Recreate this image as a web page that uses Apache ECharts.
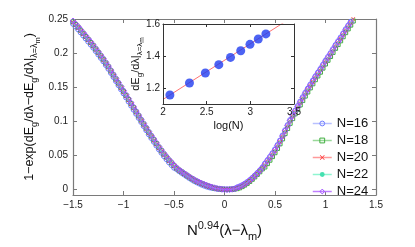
<!DOCTYPE html>
<html>
<head>
<meta charset="utf-8">
<script src="https://cdn.jsdelivr.net/npm/echarts@6/dist/echarts.min.js"></script>
<style>html,body{margin:0;padding:0;background:#fff}#c{width:415px;height:247px}</style>
</head>
<body>
<div id="c"></div>
<script>
// scaled coupling N^0.94 (lambda - lambda_m)
const scaledX = [-1.5,-1.475,-1.45,-1.425,-1.4,-1.375,-1.35,-1.325,-1.3,-1.275,
-1.25,-1.225,-1.2,-1.175,-1.15,-1.125,-1.1,-1.075,-1.05,-1.025,
-1.0,-0.975,-0.95,-0.925,-0.9,-0.875,-0.85,-0.825,-0.8,-0.775,
-0.75,-0.725,-0.7,-0.675,-0.65,-0.625,-0.6,-0.575,-0.55,-0.525,
-0.5,-0.475,-0.45,-0.425,-0.4,-0.375,-0.35,-0.325,-0.3,-0.275,
-0.25,-0.225,-0.2,-0.175,-0.15,-0.125,-0.1,-0.075,-0.05,-0.025,
0.0,0.025,0.05,0.075,0.1,0.125,0.15,0.175,0.2,0.225,
0.25,0.275,0.3,0.325,0.35,0.375,0.4,0.425,0.45,0.475,
0.5,0.525,0.55,0.575,0.6,0.625,0.65,0.675,0.7,0.725,
0.75,0.775,0.8,0.825,0.85,0.875,0.9,0.925,0.95,0.975,
1.0,1.025,1.05,1.075,1.1,1.125,1.15,1.175,1.2,1.225,
1.25,1.275,1.3];

const yN16 = [0.243,0.239,0.235,0.2305,0.226,0.2215,0.217,0.2125,0.208,0.203,
0.198,0.193,0.188,0.1825,0.177,0.171,0.165,0.159,0.153,0.147,
0.141,0.135,0.129,0.123,0.117,0.111,0.105,0.099,0.093,0.087,
0.081,0.0755,0.070,0.0645,0.059,0.054,0.049,0.0445,0.040,0.036,
0.032,0.030,0.027,0.0245,0.022,0.0195,0.017,0.0147,0.0125,0.0106,
0.0088,0.0071,0.0056,0.0043,0.0032,0.0024,0.0018,0.0012,0.0008,0.0004,
0.0002,0.0001,0.0002,0.0005,0.001,0.0031,0.0045,0.0063,0.0085,0.011,
0.0138,0.017,0.0205,0.0242,0.028,0.0323,0.038,0.043,0.048,0.0533,
0.059,0.0653,0.072,0.0793,0.087,0.0945,0.102,0.109,0.116,0.1225,
0.129,0.1355,0.142,0.148,0.154,0.160,0.166,0.1715,0.177,0.183,
0.189,0.1945,0.200,0.206,0.212,0.2175,0.223,0.229,0.235,0.2405,
0.246,0.252,0.258];

const yN18 = [0.246,0.242,0.238,0.2335,0.229,0.2245,0.220,0.2155,0.211,0.206,
0.201,0.196,0.191,0.1855,0.180,0.174,0.168,0.162,0.156,0.150,
0.144,0.138,0.132,0.126,0.120,0.114,0.108,0.102,0.096,0.090,
0.084,0.0785,0.073,0.0675,0.062,0.057,0.052,0.0475,0.043,0.039,
0.035,0.0315,0.0285,0.026,0.0235,0.021,0.0185,0.0162,0.014,0.0121,
0.0103,0.0086,0.0071,0.0057,0.0045,0.0032,0.0021,0.0014,0.0008,0.0004,
0.0002,0.0001,0.0002,0.0004,0.0008,0.0013,0.0025,0.0043,0.0065,0.009,
0.0118,0.015,0.0185,0.0222,0.026,0.0303,0.033,0.038,0.043,0.0483,
0.054,0.0603,0.067,0.0743,0.082,0.0895,0.097,0.104,0.111,0.1175,
0.124,0.1305,0.137,0.143,0.149,0.155,0.161,0.1665,0.172,0.178,
0.184,0.1895,0.195,0.201,0.207,0.2125,0.218,0.224,0.230,0.2355,
0.241,0.247,0.253];

const yN20 = [0.245,0.241,0.237,0.2325,0.228,0.2235,0.219,0.2145,0.210,0.205,
0.200,0.195,0.190,0.1845,0.179,0.173,0.167,0.161,0.155,0.149,
0.143,0.137,0.131,0.125,0.119,0.113,0.107,0.101,0.095,0.089,
0.083,0.0775,0.072,0.0665,0.061,0.056,0.051,0.0465,0.042,0.038,
0.034,0.031,0.028,0.0255,0.023,0.0205,0.018,0.0157,0.0135,0.0116,
0.0098,0.0081,0.0066,0.0052,0.004,0.0029,0.002,0.0013,0.0008,0.0004,
0.0002,0.0001,0.0002,0.0005,0.001,0.0021,0.0035,0.0053,0.0075,0.0100,
0.0128,0.016,0.0195,0.0232,0.027,0.0313,0.036,0.041,0.046,0.0513,
0.057,0.0633,0.070,0.0773,0.085,0.0925,0.100,0.107,0.114,0.1205,
0.127,0.1335,0.140,0.146,0.152,0.158,0.164,0.1695,0.175,0.181,
0.187,0.1925,0.198,0.204,0.210,0.2155,0.221,0.227,0.233,0.2385,
0.244,0.250,0.256];

const yN22 = [0.2445,0.2405,0.2365,0.232,0.2275,0.223,0.2185,0.214,0.2095,0.2045,
0.1995,0.1945,0.1895,0.184,0.1785,0.1725,0.1665,0.1605,0.1545,0.1485,
0.1425,0.1365,0.1305,0.1245,0.1185,0.1125,0.1065,0.1005,0.0945,0.0885,
0.0825,0.077,0.0715,0.066,0.0605,0.0555,0.0505,0.046,0.0415,0.0375,
0.0335,0.0305,0.0275,0.025,0.0225,0.02,0.0175,0.0153,0.0131,0.0113,
0.0095,0.0079,0.0064,0.0051,0.0039,0.0028,0.002,0.0013,0.0008,0.0004,
0.0002,0.0001,0.0002,0.0005,0.001,0.0022,0.0037,0.0055,0.0078,0.0103,
0.0132,0.0164,0.02,0.0237,0.0275,0.0318,0.0365,0.0415,0.0465,0.0518,
0.0575,0.0638,0.0705,0.0778,0.0855,0.093,0.1005,0.1075,0.1145,0.121,
0.1275,0.134,0.1405,0.1465,0.1525,0.1585,0.1645,0.17,0.1755,0.1815,
0.1875,0.193,0.1985,0.2045,0.2105,0.216,0.2215,0.2275,0.2335,0.239,
0.2445,0.2505,0.2565];

const yN24 = [0.247,0.243,0.239,0.2345,0.230,0.2255,0.221,0.2165,0.212,0.207,
0.202,0.197,0.192,0.1865,0.181,0.175,0.169,0.163,0.157,0.151,
0.145,0.139,0.133,0.127,0.121,0.115,0.109,0.103,0.097,0.091,
0.085,0.0795,0.074,0.0685,0.063,0.058,0.053,0.0485,0.044,0.040,
0.036,0.032,0.029,0.0265,0.024,0.0215,0.019,0.0167,0.0145,0.0126,
0.0108,0.0091,0.0076,0.0062,0.005,0.0037,0.0026,0.0017,0.001,0.0005,
0.0002,0.0001,0.0002,0.0005,0.001,0.0026,0.004,0.0058,0.008,0.0105,
0.0133,0.0165,0.020,0.0237,0.0275,0.0318,0.037,0.042,0.047,0.0523,
0.058,0.0643,0.071,0.0783,0.086,0.0935,0.101,0.108,0.115,0.1215,
0.128,0.1345,0.141,0.147,0.153,0.159,0.165,0.1705,0.176,0.182,
0.188,0.1935,0.199,0.205,0.211,0.2165,0.222,0.228,0.234,0.2395,
0.245,0.251,0.257];

const seriesNames = ['N=16','N=18','N=20','N=22','N=24'];

// inset: slope at lambda_m vs log(N)
const insetLogN = [2.079,2.303,2.485,2.639,2.773,2.890,2.996,3.091,3.178];
const insetSlope = [1.156,1.231,1.294,1.346,1.391,1.433,1.473,1.506,1.538];
const fitLogN = [2.0,3.5];
const fitSlope = [1.1285,1.65];

const mainYTicks = [0,0.05,0.1,0.15,0.2,0.25];
const insetYTicks = [1.2,1.4,1.6];

const FONT = 'Liberation Sans';
const pair = (xs, ys) => xs.map((x,i)=>[x, ys[i]]);
const fmt = v => String(v).replace('-', '\u2212');

const chart = echarts.init(document.getElementById('c'), null, {renderer:'canvas'});

const mainAxisColor = '#7a7a7a';
const insetAxisColor = '#333';
const xMark = 'path://M0,1L1,0L5,4L9,0L10,1L6,5L10,9L9,10L5,6L1,10L0,9L4,5Z';

const styles = [
  {line:'#a9b1ff', mark:'#6f7dff', symbol:'circle', size:5, fill:'transparent'},
  {line:'#8fd88f', mark:'#3fae3f', symbol:'rect', size:4, fill:'transparent'},
  {line:'#e63030', mark:'#ff3030', symbol:xMark, size:4, fill:'#ff3030'},
  {line:'#66f0c0', mark:'#44e0b0', symbol:'circle', size:1.5, fill:'#44e0b0'},
  {line:'#b36bff', mark:'#a050ff', symbol:'diamond', size:6, fill:'transparent'}
];
const legendLine = ['#b8c0ff','#9ad89a','#ff9a9a','#8ff5d0','#c080ff'];
const ys = [yN16,yN18,yN20,yN22,yN24];

const mainSeries = seriesNames.map((n,k)=>({
  name:n, type:'line', xAxisIndex:0, yAxisIndex:0,
  data: pair(scaledX, ys[k]),
  symbol: styles[k].symbol, symbolSize: styles[k].size, showSymbol:true,
  lineStyle:{color:styles[k].line, width:1},
  itemStyle:{color:styles[k].fill, borderColor:styles[k].mark, borderWidth: (k===2||k===3)?0:1},
  z: 2+k, clip:true, animation:false
}));

const richMainX = {
  t:{fontSize:15, fontFamily:FONT, color:'#111'},
  p:{fontSize:11, fontFamily:FONT, color:'#111', padding:[0,0,11,0]},
  s:{fontSize:11, fontFamily:FONT, color:'#111', padding:[11,0,0,0]}
};
const richMainY = {
  t:{fontSize:12.5, fontFamily:FONT, color:'#111'},
  s:{fontSize:9, fontFamily:FONT, color:'#111', padding:[9,0,0,0]},
  ss:{fontSize:7.5, fontFamily:FONT, color:'#111', padding:[16,0,0,0]}
};
const richInsetY = {
  t:{fontSize:11, fontFamily:FONT, color:'#111'},
  s:{fontSize:8, fontFamily:FONT, color:'#111', padding:[8,0,0,0]},
  ss:{fontSize:6.5, fontFamily:FONT, color:'#111', padding:[14,0,0,0]}
};

const option = {
  backgroundColor:'#fff',
  animation:false,
  textStyle:{fontFamily:FONT},
  grid:[
    {left:73, right:39, top:19, bottom:44},
    {left:163, right:121, top:24, bottom:143, show:true, backgroundColor:'#fff', borderWidth:0, z:8}
  ],
  legend:{
    orient:'vertical', left:312, top:115, itemWidth:19, itemHeight:6, itemGap:0,
    textStyle:{fontSize:13, fontFamily:FONT, color:'#111', lineHeight:17, height:17},
    padding:0,
    data: seriesNames.map((n,k)=>({name:n, lineStyle:{color:legendLine[k], width:1.5}, itemStyle:{color:styles[k].fill, borderColor:styles[k].mark, borderWidth:(k===2||k===3)?0:1}}))
  },
  xAxis:[
    {type:'value', gridIndex:0, min:-1.5, max:1.5, interval:0.5, position:'bottom',
     axisLine:{show:true, onZero:false, lineStyle:{color:mainAxisColor, width:1.2}},
     axisTick:{show:true, inside:true, length:4, lineStyle:{color:mainAxisColor}},
     axisLabel:{fontSize:10, color:'#222', margin:5, formatter:fmt, fontFamily:FONT},
     splitLine:{show:false},
     name:'{t|N}{p|0.94}{t|(λ−λ}{s|m}{t|)}', nameLocation:'middle', nameGap:25,
     nameTextStyle:{rich:richMainX}
    },
    {type:'value', gridIndex:0, min:-1.5, max:1.5, interval:0.5, position:'top',
     axisLine:{show:true, onZero:false, lineStyle:{color:mainAxisColor, width:1.2}},
     axisTick:{show:true, inside:true, length:4, lineStyle:{color:mainAxisColor}},
     axisLabel:{show:false}, splitLine:{show:false}},
    {type:'value', gridIndex:1, min:2, max:3.5, interval:0.5, position:'bottom', z:20,
     axisLine:{show:true, onZero:false, lineStyle:{color:insetAxisColor, width:1}},
     axisTick:{show:true, inside:true, length:3, lineStyle:{color:insetAxisColor}},
     axisLabel:{fontSize:10, color:'#222', margin:3, fontFamily:FONT},
     splitLine:{show:false},
     name:'log(N)', nameLocation:'middle', nameGap:16,
     nameTextStyle:{fontSize:11, color:'#111', fontFamily:FONT}},
    {type:'value', gridIndex:1, min:2, max:3.5, interval:0.5, position:'top', z:20,
     axisLine:{show:true, onZero:false, lineStyle:{color:insetAxisColor, width:1}},
     axisTick:{show:true, inside:true, length:3, lineStyle:{color:insetAxisColor}},
     axisLabel:{show:false}, splitLine:{show:false}}
  ],
  yAxis:[
    {type:'value', gridIndex:0, min:-0.008, max:0.25, position:'left',
     axisLine:{show:true, onZero:false, lineStyle:{color:mainAxisColor, width:1.2}},
     axisTick:{show:true, inside:true, length:4, customValues:mainYTicks, lineStyle:{color:mainAxisColor}},
     axisLabel:{fontSize:10, color:'#222', margin:5, customValues:mainYTicks, fontFamily:FONT},
     splitLine:{show:false},
     name:'{t|1−exp(dE}{s|g}{t|/dλ−dE}{s|g}{t|/dλ|}{s|λ=λ}{ss|m}{t|)}', nameLocation:'middle', nameGap:31, nameRotate:90,
     nameMoveOverlap:false,
     nameTextStyle:{rich:richMainY}},
    {type:'value', gridIndex:0, min:-0.008, max:0.25, position:'right',
     axisLine:{show:true, onZero:false, lineStyle:{color:mainAxisColor, width:1.2}},
     axisTick:{show:true, inside:true, length:4, customValues:mainYTicks, lineStyle:{color:mainAxisColor}},
     axisLabel:{show:false}, splitLine:{show:false}},
    {type:'value', gridIndex:1, min:1.1, max:1.6, position:'left', z:20,
     axisLine:{show:true, onZero:false, lineStyle:{color:insetAxisColor, width:1}},
     axisTick:{show:true, inside:true, length:3, customValues:insetYTicks, lineStyle:{color:insetAxisColor}},
     axisLabel:{fontSize:10, color:'#222', margin:3, customValues:insetYTicks, formatter:v=>v.toFixed(1), fontFamily:FONT},
     splitLine:{show:false},
     name:'{t|dE}{s|g}{t|/dλ|}{s|λ=λ}{ss|m}', nameLocation:'middle', nameGap:17, nameRotate:90,
     nameMoveOverlap:false,
     nameTextStyle:{rich:richInsetY}},
    {type:'value', gridIndex:1, min:1.1, max:1.6, position:'right', z:20,
     axisLine:{show:true, onZero:false, lineStyle:{color:insetAxisColor, width:1}},
     axisTick:{show:true, inside:true, length:3, customValues:insetYTicks, lineStyle:{color:insetAxisColor}},
     axisLabel:{show:false}, splitLine:{show:false}}
  ],
  series: mainSeries.concat([
    {type:'line', name:'fit', xAxisIndex:2, yAxisIndex:2, data:pair(fitLogN, fitSlope),
     showSymbol:false, symbol:'none', lineStyle:{color:'#ff7070', width:1}, clip:true, z:11},
    {type:'scatter', name:'slope', xAxisIndex:2, yAxisIndex:2, data:pair(insetLogN, insetSlope),
     symbol:'circle', symbolSize:9, itemStyle:{color:'#1f3cf0'}, z:12}
  ])
};
chart.setOption(option);
</script>
</body>
</html>
